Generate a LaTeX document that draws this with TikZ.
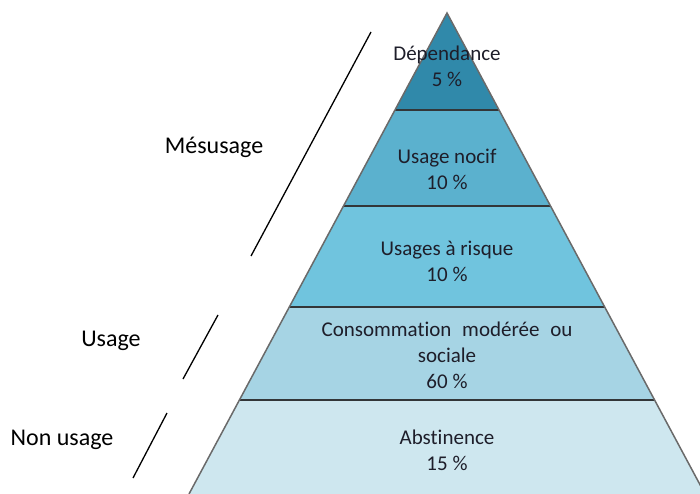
\documentclass[tikz,border=0pt]{standalone}
\usepackage{fontspec}
\setmainfont{Carlito}[Ligatures=NoCommon]
\definecolor{cDep}{HTML}{3089AA}
\definecolor{cNoc}{HTML}{5BB1CE}
\definecolor{cRis}{HTML}{70C4DE}
\definecolor{cMod}{HTML}{A6D4E4}
\definecolor{cAbs}{HTML}{CEE7EF}
\definecolor{cTxt}{HTML}{1E1E2A}
\definecolor{cEdge}{HTML}{6A6A6A}
\definecolor{cSep}{HTML}{333638}
\begin{document}
\begin{tikzpicture}[x=1pt,y=-1pt,
  layertext/.style={align=center,text=cTxt,font=\fontsize{21}{26}\selectfont,inner sep=0pt},
  sidelabel/.style={text=black,font=\fontsize{24}{28}\selectfont,inner sep=0pt},
  sep/.style={draw=cSep,line width=2pt},
  edge/.style={draw=cEdge,line width=1.5pt},
  slash/.style={draw=black,line width=1.3pt}]
\useasboundingbox (0,0) rectangle (700,494);
\begin{scope}
\clip (0,0) rectangle (700,494);
% layers
\fill[cDep] (447,13) -- (395,110) -- (499,110) -- cycle;
\fill[cNoc] (395,110) -- (343.5,206) -- (550.5,206) -- (499,110) -- cycle;
\fill[cRis] (343.5,206) -- (289.3,307) -- (604.7,307) -- (550.5,206) -- cycle;
\fill[cMod] (289.3,307) -- (239.4,400) -- (654.6,400) -- (604.7,307) -- cycle;
\fill[cAbs] (239.4,400) -- (189,494) -- (705,494) -- (654.6,400) -- cycle;
% separators
\draw[sep] (395,110) -- (499,110);
\draw[sep] (343.5,206) -- (550.5,206);
\draw[sep] (289.3,307) -- (604.7,307);
\draw[sep] (239.4,400) -- (654.6,400);
% outline
\draw[edge] (189,494) -- (447,13) -- (705,494);
\end{scope}
% texts
\node[layertext] (dep) at (447,66) {Dépendance\\5 \%};
\node[layertext] (noc) at (447,169) {Usage nocif\\10 \%};
\node[layertext] (ris) at (447,261) {Usages à risque\\10 \%};
\node[layertext] (mod) at (447,355) {Consommation\hspace{6pt} modérée\hspace{6pt} ou\\sociale\\60 \%};
\node[layertext] (abs) at (447,450) {Abstinence\\15 \%};
% side labels
\node[sidelabel] (mes) at (214,147) {Mésusage};
\node[sidelabel] (usa) at (111,341) {Usage};
\node[sidelabel] (non) at (62,440) {Non usage};
% slashes
\coordinate (m1) at (371,32);
\coordinate (m2) at (251,256);
\coordinate (u1) at (218,315);
\coordinate (u2) at (183,379);
\coordinate (n1) at (167,413);
\coordinate (n2) at (133,478);
\draw[slash] (m1) -- (m2);
\draw[slash] (u1) -- (u2);
\draw[slash] (n1) -- (n2);
\end{tikzpicture}
\end{document}
